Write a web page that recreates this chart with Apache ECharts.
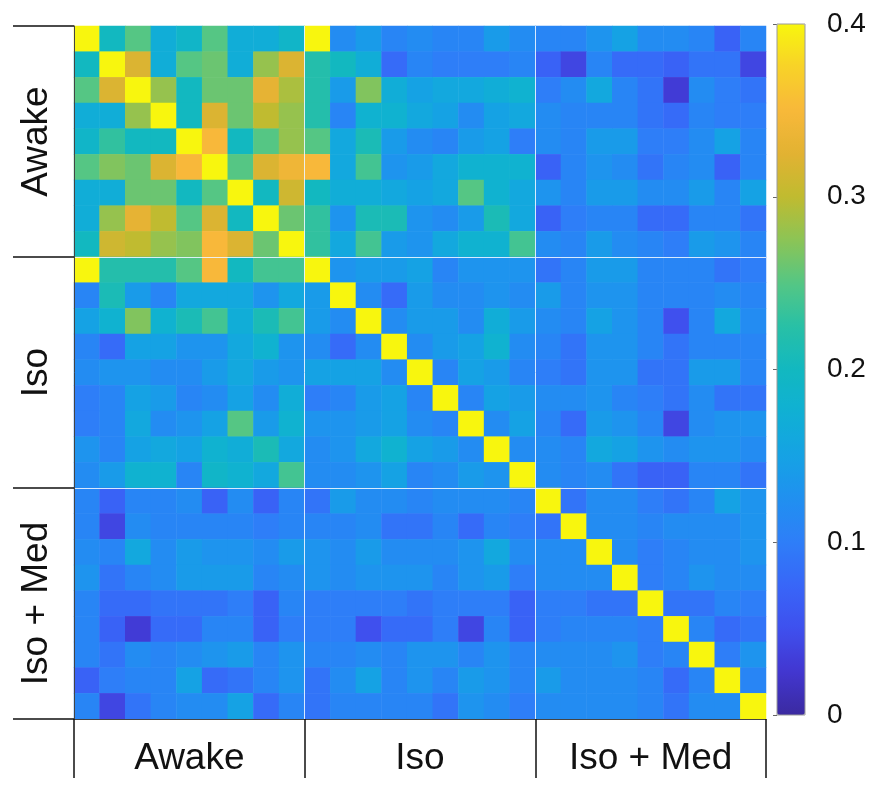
<!DOCTYPE html>
<html>
<head>
<meta charset="utf-8">
<script src="https://cdn.jsdelivr.net/npm/echarts@6/dist/echarts.min.js"></script>
<style>html,body{margin:0;padding:0;background:#fff}#c{width:879px;height:791px}</style>
</head>
<body>
<div id="c"></div>
<script>
// Group labels (axis categories are 9 recordings per group)
const groups = ['Awake', 'Iso', 'Iso + Med'];
const perGroup = 9;
const colorbarTicks = [0, 0.1, 0.2, 0.3, 0.4];

// Rows 0-8: Awake
const rowsAwake = [
 [0.40,0.20,0.25,0.17,0.19,0.25,0.17,0.17,0.19, 0.40,0.12,0.14,0.11,0.12,0.11,0.11,0.14,0.12, 0.11,0.11,0.13,0.15,0.12,0.12,0.11,0.07,0.11],
 [0.20,0.40,0.32,0.17,0.25,0.26,0.17,0.28,0.32, 0.22,0.20,0.17,0.08,0.11,0.10,0.10,0.10,0.11, 0.07,0.04,0.11,0.08,0.08,0.07,0.09,0.09,0.04],
 [0.25,0.32,0.40,0.28,0.20,0.26,0.26,0.33,0.29, 0.22,0.14,0.27,0.17,0.15,0.16,0.16,0.17,0.18, 0.10,0.12,0.16,0.11,0.09,0.03,0.12,0.10,0.09],
 [0.17,0.17,0.28,0.40,0.20,0.32,0.26,0.30,0.28, 0.22,0.11,0.18,0.18,0.16,0.15,0.12,0.15,0.16, 0.12,0.11,0.11,0.11,0.09,0.08,0.11,0.10,0.10],
 [0.19,0.23,0.20,0.20,0.40,0.35,0.20,0.25,0.28, 0.25,0.16,0.21,0.14,0.12,0.11,0.14,0.15,0.10, 0.12,0.11,0.14,0.14,0.10,0.10,0.12,0.15,0.11],
 [0.25,0.27,0.26,0.32,0.35,0.40,0.25,0.32,0.34, 0.35,0.16,0.24,0.13,0.14,0.16,0.18,0.18,0.18, 0.07,0.11,0.13,0.12,0.09,0.11,0.12,0.07,0.11],
 [0.17,0.17,0.26,0.26,0.20,0.25,0.40,0.20,0.31, 0.20,0.17,0.17,0.16,0.15,0.16,0.25,0.18,0.16, 0.13,0.11,0.14,0.14,0.12,0.12,0.14,0.11,0.15],
 [0.17,0.28,0.33,0.30,0.25,0.32,0.20,0.40,0.26, 0.23,0.13,0.21,0.21,0.13,0.12,0.14,0.21,0.16, 0.07,0.10,0.11,0.11,0.08,0.08,0.11,0.11,0.09],
 [0.20,0.31,0.30,0.28,0.27,0.35,0.32,0.26,0.40, 0.23,0.16,0.24,0.14,0.13,0.16,0.18,0.18,0.24, 0.12,0.11,0.14,0.12,0.11,0.10,0.14,0.13,0.11]
];
// Rows 9-17: Iso
const rowsIso = [
 [0.40,0.22,0.22,0.22,0.25,0.35,0.20,0.24,0.24, 0.40,0.13,0.14,0.14,0.15,0.11,0.13,0.13,0.13, 0.09,0.11,0.14,0.14,0.11,0.11,0.11,0.09,0.10],
 [0.11,0.21,0.14,0.11,0.16,0.16,0.16,0.13,0.16, 0.14,0.40,0.12,0.08,0.14,0.12,0.12,0.13,0.12, 0.14,0.11,0.13,0.13,0.11,0.11,0.11,0.12,0.11],
 [0.15,0.18,0.27,0.18,0.21,0.24,0.17,0.21,0.24, 0.14,0.12,0.40,0.12,0.14,0.14,0.12,0.17,0.14, 0.12,0.11,0.15,0.13,0.11,0.05,0.11,0.16,0.12],
 [0.11,0.08,0.15,0.15,0.13,0.13,0.16,0.18,0.13, 0.12,0.08,0.12,0.40,0.12,0.14,0.15,0.18,0.12, 0.11,0.09,0.13,0.13,0.11,0.09,0.11,0.11,0.11],
 [0.12,0.13,0.13,0.12,0.12,0.14,0.16,0.14,0.13, 0.15,0.15,0.15,0.12,0.40,0.11,0.15,0.14,0.11, 0.10,0.09,0.13,0.13,0.09,0.09,0.14,0.14,0.11],
 [0.10,0.11,0.15,0.14,0.11,0.12,0.15,0.12,0.17, 0.10,0.11,0.14,0.15,0.11,0.40,0.11,0.15,0.14, 0.12,0.12,0.13,0.11,0.10,0.09,0.12,0.09,0.09],
 [0.10,0.11,0.16,0.12,0.13,0.15,0.25,0.14,0.18, 0.13,0.13,0.14,0.15,0.12,0.11,0.40,0.12,0.15, 0.11,0.08,0.14,0.13,0.11,0.04,0.12,0.13,0.13],
 [0.13,0.11,0.15,0.16,0.15,0.18,0.17,0.21,0.16, 0.12,0.13,0.16,0.18,0.15,0.14,0.12,0.40,0.12, 0.12,0.11,0.16,0.15,0.13,0.12,0.13,0.13,0.12],
 [0.12,0.14,0.18,0.18,0.11,0.19,0.18,0.16,0.24, 0.12,0.12,0.13,0.15,0.11,0.12,0.14,0.13,0.40, 0.12,0.11,0.12,0.09,0.07,0.07,0.11,0.11,0.09]
];
// Rows 18-26: Iso + Med
const rowsIsoMed = [
 [0.11,0.07,0.11,0.11,0.12,0.07,0.12,0.07,0.11, 0.09,0.14,0.12,0.12,0.11,0.12,0.12,0.12,0.11, 0.40,0.09,0.12,0.12,0.10,0.09,0.11,0.15,0.13],
 [0.11,0.04,0.12,0.11,0.11,0.11,0.11,0.10,0.11, 0.11,0.11,0.12,0.09,0.09,0.11,0.08,0.11,0.10, 0.09,0.40,0.12,0.12,0.11,0.12,0.12,0.12,0.13],
 [0.12,0.11,0.16,0.12,0.14,0.13,0.13,0.12,0.14, 0.13,0.12,0.14,0.12,0.12,0.12,0.13,0.16,0.12, 0.12,0.12,0.40,0.12,0.10,0.11,0.12,0.12,0.13],
 [0.13,0.09,0.11,0.12,0.14,0.14,0.14,0.11,0.12, 0.13,0.12,0.13,0.13,0.13,0.11,0.13,0.14,0.10, 0.12,0.12,0.12,0.40,0.10,0.11,0.13,0.12,0.12],
 [0.11,0.08,0.08,0.09,0.09,0.09,0.10,0.07,0.11, 0.10,0.10,0.10,0.10,0.09,0.10,0.10,0.10,0.07, 0.10,0.10,0.09,0.09,0.40,0.09,0.09,0.11,0.10],
 [0.11,0.07,0.03,0.08,0.08,0.11,0.11,0.07,0.10, 0.10,0.10,0.05,0.08,0.08,0.10,0.04,0.11,0.07, 0.10,0.11,0.11,0.11,0.10,0.40,0.11,0.08,0.09],
 [0.11,0.09,0.12,0.11,0.12,0.13,0.14,0.11,0.13, 0.11,0.11,0.12,0.11,0.13,0.13,0.11,0.13,0.11, 0.12,0.12,0.12,0.13,0.10,0.11,0.40,0.10,0.13],
 [0.07,0.10,0.11,0.11,0.15,0.08,0.09,0.11,0.13, 0.09,0.12,0.15,0.11,0.13,0.11,0.14,0.13,0.11, 0.14,0.12,0.12,0.12,0.11,0.08,0.11,0.40,0.11],
 [0.11,0.04,0.09,0.11,0.12,0.12,0.15,0.08,0.11, 0.09,0.11,0.11,0.11,0.11,0.09,0.13,0.12,0.10, 0.12,0.12,0.12,0.12,0.11,0.09,0.12,0.12,0.40]
];

// --- build library inputs from the arrays above ---
const nodeNames = [];
groups.forEach(g => { for (let k = 1; k <= perGroup; k++) nodeNames.push(g + ' ' + k); });
const matrix = rowsAwake.concat(rowsIso, rowsIsoMed);
const heatData = [];
matrix.forEach((row, r) => row.forEach((v, c) => heatData.push([c, r, v])));

const parula = ['#3b2aa0','#4236d0','#3f50ee','#3866f8','#2e7ef8','#2090f0','#15a2e4','#10b0d4',
  '#12b8c0','#28c0a6','#55c684','#8cc455','#c0bb30','#e2b232','#f8b83a','#f8d228','#f8f60e'];

const FONT = 'Liberation Sans, Arial, sans-serif';
const G = {left: 74, top: 26, width: 692, height: 693};
const CB = {left: 777, top: 24, width: 28, height: 691};
const groupOf = v => v.replace(/ \d+$/, '');

const chart = echarts.init(document.getElementById('c'), null, {renderer: 'canvas'});
chart.setOption({
  animation: false,
  backgroundColor: '#fff',
  grid: [
    Object.assign({}, G),
    Object.assign({}, G),
    Object.assign({show: true, borderColor: '#9a9a9a', borderWidth: 1, backgroundColor: 'transparent', z: 10}, CB)
  ],
  xAxis: [
    {type: 'category', gridIndex: 0, data: nodeNames, position: 'bottom',
     axisLine: {show: false}, axisTick: {show: false}, splitLine: {show: false},
     axisLabel: {interval: i => i % perGroup === 4, formatter: groupOf, fontSize: 37,
       fontFamily: FONT, color: '#111', margin: 21}},
    {type: 'value', gridIndex: 1, min: 0, max: nodeNames.length, interval: perGroup, z: 5,
     position: 'bottom',
     axisLine: {show: true, onZero: false, lineStyle: {color: '#444', width: 1}},
     axisTick: {show: true, inside: false, length: 59, lineStyle: {color: '#111', width: 1.5}},
     axisLabel: {show: false},
     splitLine: {show: true, showMinLine: false, showMaxLine: false, lineStyle: {color: 'rgba(235,245,255,0.9)', width: 1}}},
    {type: 'value', gridIndex: 2, show: false, min: 0, max: 1}
  ],
  yAxis: [
    {type: 'category', gridIndex: 0, data: nodeNames, inverse: true, position: 'left',
     axisLine: {show: false}, axisTick: {show: false}, splitLine: {show: false},
     axisLabel: {interval: i => i % perGroup === 4, formatter: groupOf, rotate: 90, fontSize: 37,
       fontFamily: FONT, color: '#111', margin: 19}},
    {type: 'value', gridIndex: 1, min: 0, max: nodeNames.length, interval: perGroup, inverse: true, z: 5,
     position: 'left',
     axisLine: {show: true, onZero: false, lineStyle: {color: '#444', width: 1}},
     axisTick: {show: true, inside: false, length: 61, lineStyle: {color: '#111', width: 1.5}},
     axisLabel: {show: false},
     splitLine: {show: true, showMinLine: false, showMaxLine: false, lineStyle: {color: 'rgba(235,245,255,0.9)', width: 1}}},
    {type: 'value', gridIndex: 2, min: colorbarTicks[0], max: colorbarTicks[colorbarTicks.length - 1],
     interval: colorbarTicks[1] - colorbarTicks[0], position: 'right', z: 5,
     axisLine: {show: false},
     axisTick: {show: true, inside: true, length: 4, lineStyle: {color: '#666'}},
     splitLine: {show: false},
     axisLabel: {fontSize: 28, fontFamily: FONT, color: '#111', margin: 22,
       formatter: v => String(+v.toFixed(2))}}
  ],
  visualMap: {
    type: 'continuous', seriesIndex: 0, min: 0, max: 0.4, calculable: false,
    orient: 'vertical', left: CB.left, top: CB.top, itemWidth: CB.width, itemHeight: CB.height,
    padding: 0, text: null, showLabel: false, inRange: {color: parula}, z: 1
  },
  series: [{
    type: 'heatmap', xAxisIndex: 0, yAxisIndex: 0, data: heatData,
    itemStyle: {borderWidth: 0}, emphasis: {disabled: true}, progressive: 0
  }]
});
</script>
</body>
</html>
